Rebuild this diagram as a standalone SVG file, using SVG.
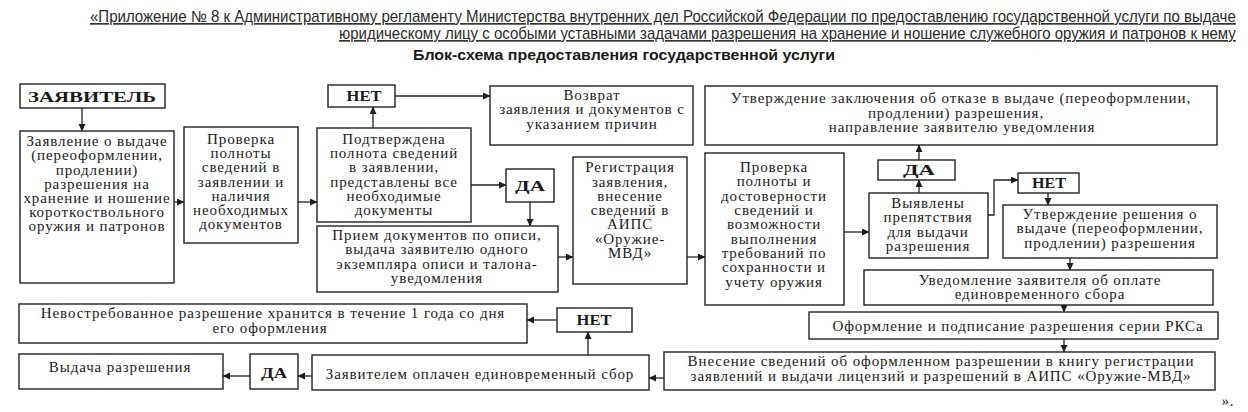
<svg xmlns="http://www.w3.org/2000/svg" width="1248" height="412" viewBox="0 0 1248 412">
<defs>
<marker id="a" markerWidth="8" markerHeight="8" refX="7" refY="3.5" orient="auto" markerUnits="userSpaceOnUse">
<path d="M0,0 L7.5,3.5 L0,7 Z" fill="#1e1e1e"/>
</marker>
<style>
.b{fill:#fff;stroke:#222;stroke-width:1.4}
.t{font-family:"Liberation Serif","DejaVu Serif",serif;font-size:15px;letter-spacing:0.9px;fill:#1a1a1a;text-anchor:middle}
.k{font-family:"Liberation Serif","DejaVu Serif",serif;font-size:14px;font-weight:bold;fill:#1a1a1a;text-anchor:middle}
.h{font-family:"Liberation Sans",Arial,sans-serif;font-size:16px;fill:#2a2a2a;text-decoration:underline}
.hb{font-family:"Liberation Sans",Arial,sans-serif;font-size:15px;font-weight:bold;fill:#1a1a1a}
.c{fill:none;stroke:#222;stroke-width:1.3;marker-end:url(#a)}
</style>
</defs>
<rect width="1248" height="412" fill="#fff"/>
<g id="header">
<text class="h" transform="translate(90,22) scale(0.88,1)" x="0" y="0" textLength="1302" lengthAdjust="spacingAndGlyphs">«Приложение № 8 к Административному регламенту Министерства внутренних дел Российской Федерации по предоставлению государственной услуги по выдаче</text>
<text class="h" transform="translate(339,39) scale(0.88,1)" x="0" y="0" textLength="1019" lengthAdjust="spacingAndGlyphs">юридическому лицу с особыми уставными задачами разрешения на хранение и ношение служебного оружия и патронов к нему</text>
<text class="hb" x="413" y="60" textLength="422" lengthAdjust="spacingAndGlyphs">Блок-схема предоставления государственной услуги</text>
</g>
<g id="connectors">
<line class="c" x1="82" y1="107" x2="82" y2="131"/>
<line class="c" x1="174" y1="202" x2="184" y2="202"/>
<line class="c" x1="298" y1="202" x2="317" y2="202"/>
<line class="c" x1="373" y1="128" x2="373" y2="107"/>
<line class="c" x1="395" y1="96" x2="490" y2="96"/>
<line class="c" x1="471" y1="185" x2="506" y2="185"/>
<line class="c" x1="530" y1="202" x2="530" y2="226"/>
<line class="c" x1="558" y1="257" x2="573" y2="257"/>
<line class="c" x1="687" y1="257" x2="705" y2="257"/>
<line class="c" x1="844" y1="232" x2="869" y2="232"/>
<line class="c" x1="919" y1="193" x2="919" y2="180"/>
<line class="c" x1="919" y1="160" x2="919" y2="145"/>
<polyline class="c" points="988,215 994,215 994,180 1018,180"/>
<line class="c" x1="1048" y1="193" x2="1048" y2="205"/>
<line class="c" x1="1070" y1="258" x2="1070" y2="270"/>
<line class="c" x1="1064" y1="305" x2="1064" y2="312"/>
<line class="c" x1="1064" y1="339" x2="1064" y2="352"/>
<line class="c" x1="664" y1="378" x2="649" y2="378"/>
<line class="c" x1="588" y1="355" x2="588" y2="332"/>
<line class="c" x1="557" y1="320" x2="527" y2="320"/>
<line class="c" x1="312" y1="376" x2="298" y2="376"/>
<line class="c" x1="250" y1="376" x2="223" y2="376"/>
</g>
<g id="applicant">
<rect class="b" x="20" y="84" width="145" height="24"/>
<text class="k" x="92" y="102" font-size="16" textLength="128" lengthAdjust="spacingAndGlyphs">ЗАЯВИТЕЛЬ</text>
</g>
<g id="application">
<rect class="b" x="20" y="131" width="154" height="152"/>
<text class="t" x="97" y="146">Заявление о выдаче</text>
<text class="t" x="97" y="160">(переоформлении,</text>
<text class="t" x="97" y="174.5">продлении)</text>
<text class="t" x="97" y="188.5">разрешения на</text>
<text class="t" x="97" y="203">хранение и ношение</text>
<text class="t" x="97" y="217">короткоствольного</text>
<text class="t" x="97" y="231">оружия и патронов</text>
</g>
<g id="check1">
<rect class="b" x="184" y="127" width="114" height="116"/>
<text class="t" x="241" y="144">Проверка</text>
<text class="t" x="241" y="158">полноты</text>
<text class="t" x="241" y="172">сведений в</text>
<text class="t" x="241" y="186.5">заявлении и</text>
<text class="t" x="241" y="200.5">наличия</text>
<text class="t" x="241" y="215">необходимых</text>
<text class="t" x="241" y="229">документов</text>
</g>
<g id="confirmed">
<rect class="b" x="317" y="128" width="154" height="94"/>
<text class="t" x="394" y="144">Подтверждена</text>
<text class="t" x="394" y="158">полнота сведений</text>
<text class="t" x="394" y="172">в заявлении,</text>
<text class="t" x="394" y="186.5">представлены все</text>
<text class="t" x="394" y="200.5">необходимые</text>
<text class="t" x="394" y="215">документы</text>
</g>
<g id="no1">
<rect class="b" x="328" y="85" width="67" height="22"/>
<text class="k" x="364" y="101" textLength="35" lengthAdjust="spacingAndGlyphs">НЕТ</text>
</g>
<g id="return">
<rect class="b" x="490" y="86" width="203" height="59"/>
<text class="t" x="592" y="100">Возврат</text>
<text class="t" x="592" y="114">заявления и документов с</text>
<text class="t" x="592" y="128.5">указанием причин</text>
</g>
<g id="yes1">
<rect class="b" x="506" y="169" width="48" height="33"/>
<text class="k" x="530" y="191" font-size="15" textLength="30" lengthAdjust="spacingAndGlyphs">ДА</text>
</g>
<g id="accept">
<rect class="b" x="317" y="226" width="241" height="66"/>
<text class="t" x="437" y="240">Прием документов по описи,</text>
<text class="t" x="437" y="254">выдача заявителю одного</text>
<text class="t" x="437" y="268.5">экземпляра описи и талона-</text>
<text class="t" x="437" y="282.5">уведомления</text>
</g>
<g id="register">
<rect class="b" x="573" y="157" width="114" height="127"/>
<text class="t" x="630" y="172">Регистрация</text>
<text class="t" x="630" y="186.5">заявления,</text>
<text class="t" x="630" y="200.5">внесение</text>
<text class="t" x="630" y="215">сведений в</text>
<text class="t" x="630" y="229">АИПС</text>
<text class="t" x="630" y="243.5">«Оружие-</text>
<text class="t" x="630" y="257.5">МВД»</text>
</g>
<g id="refusal">
<rect class="b" x="705" y="86" width="512" height="59"/>
<text class="t" x="961" y="103">Утверждение заключения об отказе в выдаче (переоформлении,</text>
<text class="t" x="956" y="117.5">продлении) разрешения,</text>
<text class="t" x="962" y="132">направление заявителю уведомления</text>
</g>
<g id="check2">
<rect class="b" x="705" y="153" width="139" height="152"/>
<text class="t" x="774" y="172">Проверка</text>
<text class="t" x="774" y="186">полноты и</text>
<text class="t" x="774" y="200.5">достоверности</text>
<text class="t" x="774" y="215">сведений и</text>
<text class="t" x="774" y="229">возможности</text>
<text class="t" x="774" y="243.5">выполнения</text>
<text class="t" x="774" y="257.5">требований по</text>
<text class="t" x="774" y="272">сохранности и</text>
<text class="t" x="774" y="286.5">учету оружия</text>
</g>
<g id="yes2">
<rect class="b" x="878" y="160" width="77" height="20"/>
<text class="k" x="919" y="175" textLength="32" lengthAdjust="spacingAndGlyphs">ДА</text>
</g>
<g id="obstacles">
<rect class="b" x="869" y="193" width="119" height="65"/>
<text class="t" x="928" y="207.5">Выявлены</text>
<text class="t" x="928" y="222">препятствия</text>
<text class="t" x="928" y="236.5">для выдачи</text>
<text class="t" x="928" y="251">разрешения</text>
</g>
<g id="no2">
<rect class="b" x="1018" y="173" width="61" height="20"/>
<text class="k" x="1049" y="188" textLength="34" lengthAdjust="spacingAndGlyphs">НЕТ</text>
</g>
<g id="approval">
<rect class="b" x="1003" y="205" width="214" height="53"/>
<text class="t" x="1110" y="218.5">Утверждение решения о</text>
<text class="t" x="1110" y="233">выдаче (переоформлении,</text>
<text class="t" x="1110" y="247.5">продлении) разрешения</text>
</g>
<g id="notify">
<rect class="b" x="864" y="270" width="349" height="35"/>
<text class="t" x="1040" y="285">Уведомление заявителя об оплате</text>
<text class="t" x="1040" y="299">единовременного сбора</text>
</g>
<g id="issue-doc">
<rect class="b" x="809" y="312" width="409" height="27"/>
<text class="t" x="1018" y="331">Оформление и подписание разрешения серии РКСа</text>
</g>
<g id="record">
<rect class="b" x="664" y="352" width="551" height="38"/>
<text class="t" x="941" y="366">Внесение сведений об оформленном разрешении в книгу регистрации</text>
<text class="t" x="941" y="381">заявлений и выдачи лицензий и разрешений в АИПС «Оружие-МВД»</text>
</g>
<g id="paid">
<rect class="b" x="312" y="355" width="337" height="35"/>
<text class="t" x="480" y="379">Заявителем оплачен единовременный сбор</text>
</g>
<g id="no3">
<rect class="b" x="557" y="308" width="75" height="24"/>
<text class="k" x="594" y="325" textLength="35" lengthAdjust="spacingAndGlyphs">НЕТ</text>
</g>
<g id="unclaimed">
<rect class="b" x="19" y="304" width="508" height="39"/>
<text class="t" x="273" y="317.5">Невостребованное разрешение хранится в течение 1 года со дня</text>
<text class="t" x="270" y="333">его оформления</text>
</g>
<g id="yes3">
<rect class="b" x="250" y="354" width="48" height="35"/>
<text class="k" x="274" y="377.5" textLength="26" lengthAdjust="spacingAndGlyphs">ДА</text>
</g>
<g id="handover">
<rect class="b" x="19" y="354" width="204" height="35"/>
<text class="t" x="120" y="372">Выдача разрешения</text>
</g>
<text class="t" x="1228" y="406" font-size="12">».</text>
</svg>
